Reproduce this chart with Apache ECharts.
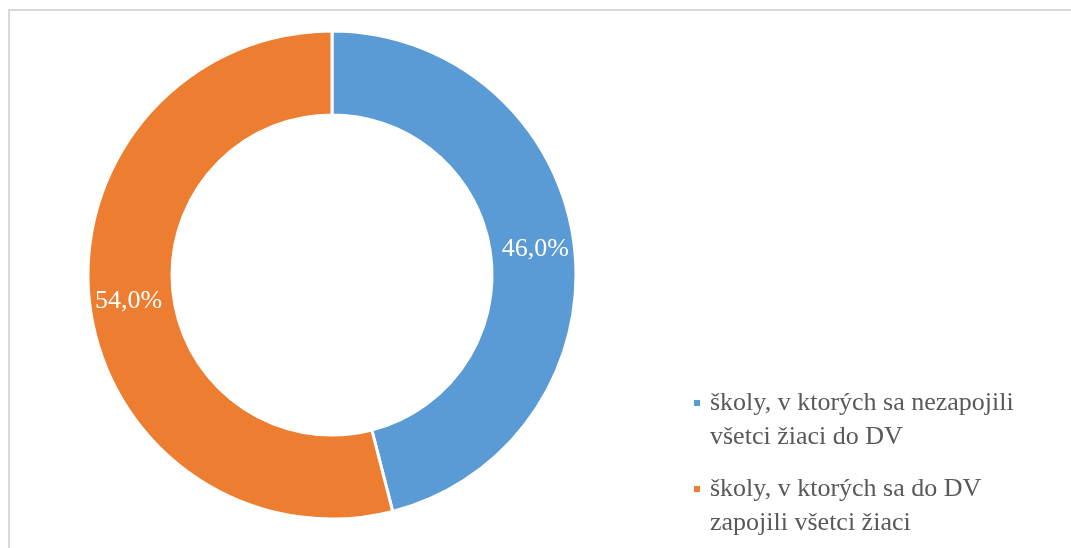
<!DOCTYPE html>
<html>
<head>
<meta charset="utf-8">
<script src="https://cdn.jsdelivr.net/npm/echarts@6/dist/echarts.min.js"></script>
<style>
html,body{margin:0;padding:0;background:#fff;overflow:hidden;}
#frame{position:absolute;left:8px;top:9px;width:1100px;height:600px;border-left:2px solid #d9d9d9;border-top:2px solid #d9d9d9;}
#chart{position:absolute;left:0;top:0;width:1071px;height:548px;}
</style>
</head>
<body>
<div id="frame"></div>
<div id="chart"></div>
<script>
const categories = ["školy, v ktorých sa nezapojili\nvšetci žiaci do DV", "školy, v ktorých sa do DV\nzapojili všetci žiaci"];
const values = [46.0, 54.0];
const colors = ["#5B9BD5", "#ED7D31"];

const chart = echarts.init(document.getElementById('chart'), null, {renderer: 'canvas'});
chart.setOption({
  animation: false,
  backgroundColor: 'transparent',
  legend: {
    orient: 'vertical',
    left: 692,
    top: 352,
    padding: 0,
    itemWidth: 8,
    itemHeight: 8,
    itemGap: -16,
    icon: 'rect',
    data: categories,
    formatter: name => '\n' + name,
    textStyle: {
      fontFamily: 'Liberation Serif',
      fontSize: 26,
      color: '#595959',
      lineHeight: 34,
      padding: [0, 0, 0, 4]
    }
  },
  series: [{
    type: 'pie',
    center: [332, 275],
    radius: [160, 244],
    startAngle: 90,
    clockwise: true,
    color: colors,
    itemStyle: {borderColor: '#fff', borderWidth: 3},
    label: {
      position: 'inside',
      formatter: p => p.value.toFixed(1).replace('.', ',') + '%',
      color: '#fff',
      fontFamily: 'Liberation Serif',
      fontSize: 26
    },
    labelLine: {show: false},
    emphasis: {disabled: true},
    data: categories.map((c, i) => ({name: c, value: values[i]}))
  }]
});
</script>
</body>
</html>
